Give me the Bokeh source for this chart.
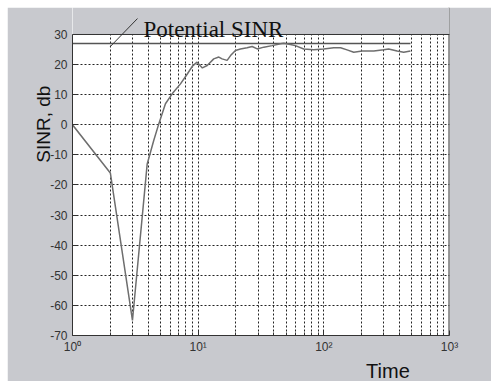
from bokeh.plotting import figure
from bokeh.models import (FixedTicker, Label, Arrow, BoxAnnotation, Span, LogAxis,
                          LinearAxis, CustomJSTickFormatter, Spacer)
from bokeh.layouts import column, row
from bokeh.embed import file_html
from bokeh.resources import INLINE
import math

# ---- data ----
time = [1, 2, 3, 3.93, 4.43, 4.86, 5.49, 6.21, 7.23, 8.17, 9.0, 9.8, 10.8, 11.8,
        13.3, 14.6, 15.5, 17.0, 18.1, 19.8, 21.7, 24.5, 26.9, 29.5, 33.3, 38.8,
        45.2, 48, 54.2, 59.4, 69.2, 83.1, 99.8, 120, 136, 153, 173, 202, 250,
        300, 328, 383, 432, 489]
sinr = [0, -16, -65, -13, -5.2, 0.3, 7, 10.3, 13.6, 16.8, 19.5, 20.8, 18.9, 19.7,
        21.9, 22.5, 21.9, 21.4, 23.0, 24.7, 25.2, 25.6, 26.0, 25.2, 25.8, 26.3,
        26.9, 27.1, 26.7, 26.3, 25.2, 24.9, 25.2, 25.6, 25.6, 24.9, 24.1, 24.5,
        24.5, 24.9, 25.2, 24.5, 24.1, 24.5]
potential_time = [1, 489]
potential_sinr = [27, 27]

x_major = [1, 10, 100, 1000]
x_minor = [m * d for d in (1, 10, 100) for m in range(2, 10)]
x_labels = {1: "10\u2070", 10: "10\u00b9", 100: "10\u00b2", 1000: "10\u00b3"}
y_ticks = list(range(-70, 31, 10))
x_lo, x_hi = 1, 1000
y_lo, y_hi = -70, 30

GRAY = "#c8c9ce"
INK = "#333333"

# frame extends above y=30 into the grey band so that the annotation can be drawn there
p = figure(frame_width=377, frame_height=328,
           min_border_left=65, min_border_right=42, min_border_top=0,
           min_border_bottom=46,
           x_axis_type="log", x_range=(x_lo, x_hi), y_range=(y_lo, y_hi + 8.97),
           output_backend="svg", toolbar_location=None)
p.border_fill_color = GRAY
p.background_fill_color = "white"
p.outline_line_color = None

xt = FixedTicker(ticks=x_major, minor_ticks=x_minor)
yt = FixedTicker(ticks=y_ticks)
p.xaxis.ticker = xt
p.yaxis.ticker = yt
p.xgrid.ticker = xt
p.ygrid.ticker = yt
p.xaxis.major_label_overrides = x_labels
p.yaxis.major_label_overrides = {v: str(v) for v in y_ticks}
p.yaxis.bounds = (y_lo, y_hi)

for ax in (p.xaxis[0], p.yaxis[0]):
    ax.axis_line_color = INK
    ax.major_tick_in = 5
    ax.major_tick_out = 0
    ax.minor_tick_in = 3
    ax.minor_tick_out = 0
    ax.major_tick_line_color = INK
    ax.minor_tick_line_color = INK
    ax.major_label_text_font = "Liberation Sans"
    ax.major_label_text_font_size = "12px"
    ax.major_label_text_color = INK
    ax.major_label_standoff = 5
p.xaxis.major_label_standoff = 4

for g in (p.xgrid[0], p.ygrid[0]):
    g.grid_line_color = "#222222"
    g.grid_line_dash = "2 2"
    g.grid_line_width = 1
p.xgrid.minor_grid_line_color = "#222222"
p.xgrid.minor_grid_line_dash = "2 2"
p.xgrid.minor_grid_line_width = 1

p.line(potential_time, potential_sinr, line_color="#555555", line_width=1.5)
p.line(time, sinr, line_color="#6e6e6e", line_width=1.5)

# right edge of the box, then the grey band above y=30, then the top edge
p.add_layout(Span(location=x_hi, dimension="height", line_color=INK, line_width=2))
p.add_layout(BoxAnnotation(bottom=y_hi, fill_color=GRAY, fill_alpha=1, line_color=None))
p.add_layout(Span(location=y_hi, dimension="width", line_color=INK, line_width=1))

# leader line and annotation text
p.add_layout(Arrow(x_start=2.0, y_start=26.0, x_end=3.29, y_end=35.3, end=None,
                   line_color=INK, line_width=1))
p.add_layout(Label(x=3.67, y=31.66, text="Potential SINR",
                   text_font="Liberation Serif", text_font_size="23px",
                   text_color="#111111", text_baseline="alphabetic"))

# "Time" label as the single label of an extra bottom axis
time_axis = LogAxis(ticker=FixedTicker(ticks=[323.6]),
                    formatter=CustomJSTickFormatter(code="return 'Time'"),
                    axis_line_color=None, major_tick_line_color=None,
                    minor_tick_line_color=None, major_label_standoff=-3,
                    major_label_text_font="Liberation Sans",
                    major_label_text_font_size="20px",
                    major_label_text_color="#111111")
p.add_layout(time_axis, "below")

# "SINR, db" label as the single label of an extra left axis
ylab_axis = LinearAxis(ticker=FixedTicker(ticks=[13.0]),
                       formatter=CustomJSTickFormatter(code="return 'SINR, db'"),
                       axis_line_color=None, major_tick_line_color=None,
                       minor_tick_line_color=None, major_label_standoff=-2,
                       major_label_orientation=math.pi / 2,
                       major_label_text_font="Liberation Sans",
                       major_label_text_font_size="19px",
                       major_label_text_color="#111111")
p.add_layout(ylab_axis, "left")

layout = column(Spacer(height=7), row(Spacer(width=7), p))
open("out.html", "w").write(file_html(layout, INLINE))
